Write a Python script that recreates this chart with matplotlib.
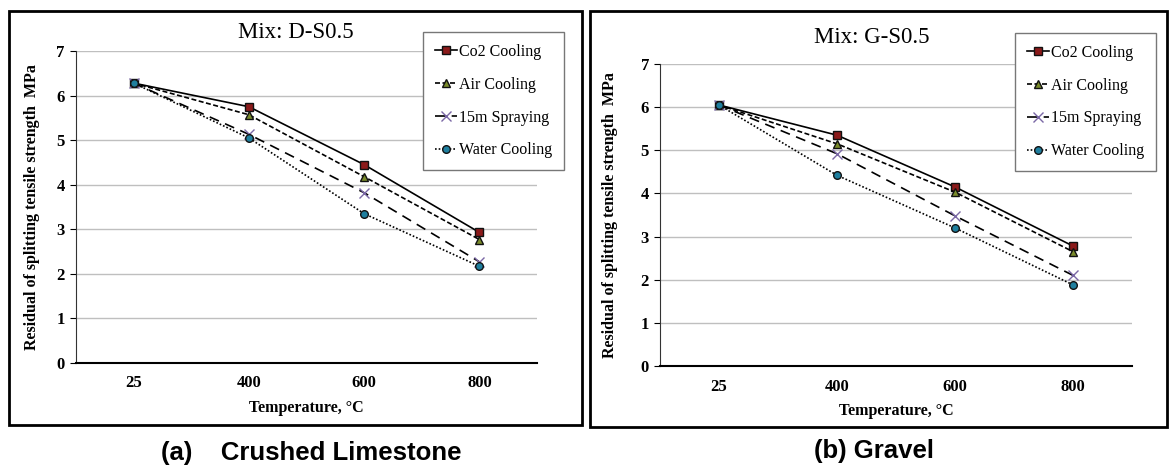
import numpy as np
import matplotlib.pyplot as plt
from matplotlib.patches import Rectangle

# data
temps = ['25', '400', '600', '800']
series = ['Co2 Cooling', 'Air Cooling', '15m Spraying', 'Water Cooling']

ls_co2 = [6.28, 5.75, 4.45, 2.93]
ls_air = [6.28, 5.57, 4.18, 2.77]
ls_spray = [6.28, 5.13, 3.82, 2.27]
ls_water = [6.28, 5.05, 3.35, 2.17]

gr_co2 = [6.05, 5.35, 4.15, 2.78]
gr_air = [6.05, 5.15, 4.03, 2.65]
gr_spray = [6.05, 4.92, 3.48, 2.10]
gr_water = [6.05, 4.42, 3.20, 1.88]

serif = 'Liberation Serif'
styles = [
    dict(ls='-', marker='s', mfc='#8B1A1A', mec='#111111', ms=5.5),
    dict(ls=(0, (3, 1.5)), marker='^', mfc='#7A8B2A', mec='#111111', ms=5.5),
    dict(ls=(0, (6, 4)), marker='x', mfc='#7B68A6', mec='#7B68A6', ms=6.5),
    dict(ls=(0, (1, 1.2)), marker='o', mfc='#1F7F9F', mec='#111111', ms=5.5),
]

fig = plt.figure(figsize=(11.69, 4.71), dpi=100)

# outer frames around each panel
fig.patches.append(Rectangle((0.0077, 0.0977), 0.4902, 0.879, transform=fig.transFigure,
                             fill=False, ec='black', lw=2))
fig.patches.append(Rectangle((0.5047, 0.0934), 0.4936, 0.8832, transform=fig.transFigure,
                             fill=False, ec='black', lw=2))


def panel(rect, data, title, title_xy, leg_xy, ylab_x):
    ax = fig.add_axes(rect)
    x = np.arange(len(temps))
    for vals, name, st in zip(data, series, styles):
        ax.plot(x, vals, color='black', lw=1.2, label=name, **st)
    ax.set_xlim(-0.5, 3.5)
    ax.set_ylim(0, 7)
    ax.set_xticks(x)
    ax.set_xticklabels(temps)
    ax.set_yticks(range(0, 8))
    ax.grid(axis='y', color='#BFBFBF', lw=1)
    ax.set_axisbelow(True)
    for s in ['top', 'right']:
        ax.spines[s].set_visible(False)
    ax.spines['left'].set_color('#333333')
    ax.spines['bottom'].set_linewidth(1.5)
    ax.tick_params(axis='x', length=0, pad=9)
    ax.tick_params(axis='y', length=4, pad=4)
    for lab in ax.get_xticklabels() + ax.get_yticklabels():
        lab.set_fontfamily(serif)
        lab.set_fontweight('bold')
        lab.set_fontsize(12)
    ax.set_xlabel('Temperature, °C', fontfamily=serif, fontweight='bold', fontsize=11.5, labelpad=6)
    fig.text(ylab_x, rect[1] + rect[3] / 2, 'Residual of splitting tensile strength  MPa',
             rotation=90, ha='center', va='center', fontfamily=serif, fontweight='bold', fontsize=11.5)
    fig.text(title_xy[0], title_xy[1], title, ha='center', va='center', fontfamily=serif, fontsize=16.5)
    leg = fig.legend(handles=ax.get_lines(), loc='upper right', bbox_to_anchor=leg_xy,
                     prop={'family': serif, 'size': 11.5}, frameon=True, fancybox=False,
                     edgecolor='#777777', framealpha=1, labelspacing=1.05, handlelength=1.4,
                     handletextpad=0.1, borderpad=0.75, borderaxespad=0)
    leg.get_frame().set_linewidth(1)
    return ax


panel([0.0650, 0.2293, 0.3944, 0.6624], [ls_co2, ls_air, ls_spray, ls_water],
      'Mix: D-S0.5', (0.2532, 0.930), (0.4825, 0.932), 32 / 1169)
panel([0.5646, 0.2229, 0.4038, 0.6412], [gr_co2, gr_air, gr_spray, gr_water],
      'Mix: G-S0.5', (0.746, 0.921), (0.9889, 0.930), 610 / 1169)

fig.text(311 / 1169, 1 - 453 / 471, '(a)    Crushed Limestone', ha='center', va='center',
         fontfamily='Liberation Sans', fontweight='bold', fontsize=18.5)
fig.text(874 / 1169, 1 - 451 / 471, '(b) Gravel', ha='center', va='center',
         fontfamily='Liberation Sans', fontweight='bold', fontsize=18.5)

plt.savefig('out.png', dpi=100)
